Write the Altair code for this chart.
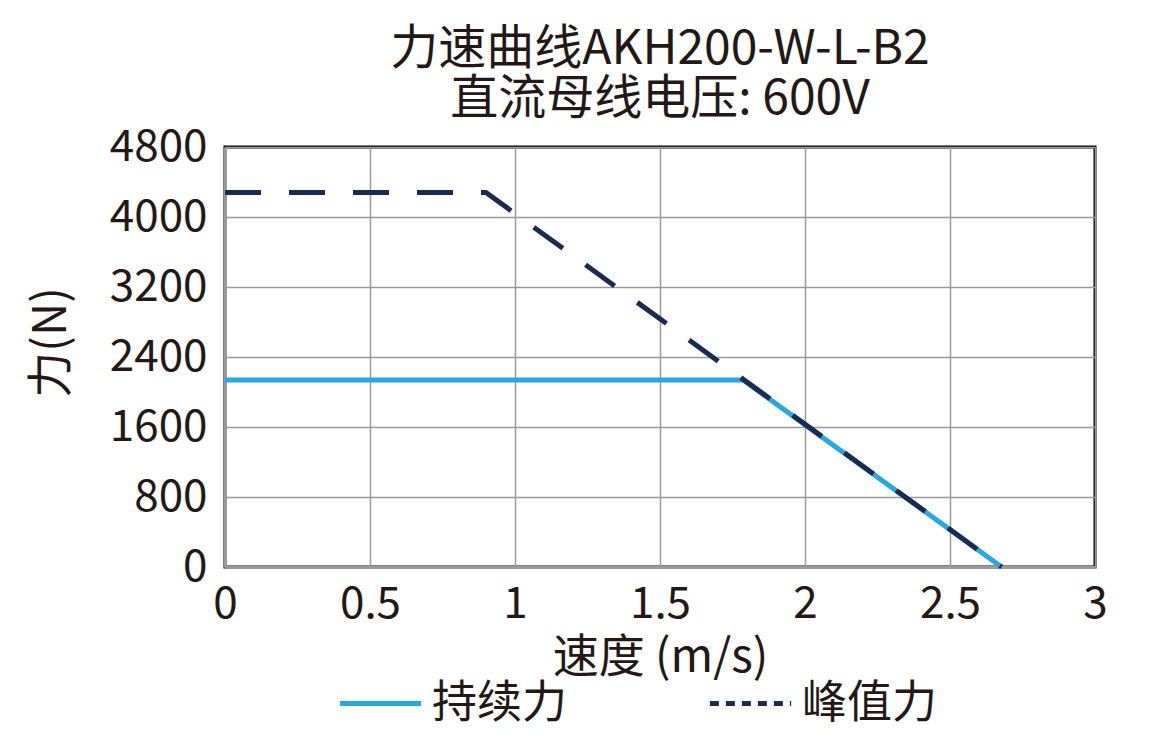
import altair as alt
import pandas as pd

# force-speed curve points
cont_speed = [0, 1.787, 2.678]
cont_force = [2137, 2137, 0]
peak_speed = [0, 0.9, 2.678]
peak_force = [4280, 4280, 0]

series_names = ["持续力", "峰值力"]
x_ticks = [0, 0.5, 1, 1.5, 2, 2.5, 3]
y_ticks = [0, 800, 1600, 2400, 3200, 4000, 4800]

FONT = "Noto Sans CJK SC"
INK = "#231815"

cont_df = pd.DataFrame({"speed": cont_speed, "force": cont_force, "series": series_names[0]})
peak_df = pd.DataFrame({"speed": peak_speed, "force": peak_force, "series": series_names[1]})

x_enc = alt.X("speed:Q", scale=alt.Scale(domain=[0, 3], nice=False),
              axis=alt.Axis(title="速度 (m/s)", values=x_ticks, format="~g"))
y_enc = alt.Y("force:Q", scale=alt.Scale(domain=[0, 4800], nice=False),
              axis=alt.Axis(title="力(N)", values=y_ticks, format="d", titleY=195))


def legend_at(x, dash=None):
    # one horizontal legend entry per series, placed under the x title
    opts = dict(orient="none", legendX=x, legendY=513, title=None,
                symbolType="stroke", symbolSize=6600, symbolStrokeWidth=5,
                labelFontSize=45, labelFont=FONT, labelColor=INK,
                labelOffset=8, labelLimit=400)
    if dash:
        opts["symbolDash"] = dash
    return alt.Legend(**opts)


cont_line = alt.Chart(cont_df).mark_line(strokeWidth=5).encode(
    x=x_enc, y=y_enc,
    color=alt.Color("series:N", scale=alt.Scale(domain=[series_names[0]], range=["#29a8e0"]),
                    legend=legend_at(112)),
)

peak_line = alt.Chart(peak_df).mark_line(strokeWidth=5, strokeDash=[36, 28]).encode(
    x=x_enc, y=y_enc,
    stroke=alt.Stroke("series:N", scale=alt.Scale(domain=[series_names[1]], range=["#1b2a52"]),
                      legend=legend_at(482, dash=[9, 7])),
)

chart = alt.layer(cont_line, peak_line).properties(
    width=870,
    height=420,
    autosize=alt.AutoSizeParams(type="none"),
    padding={"left": 217, "top": 139, "right": 55, "bottom": 162},
    title=alt.Title(["力速曲线AKH200-W-L-B2", "直流母线电压: 600V"],
                    fontSize=48, font=FONT, color=INK, fontWeight="normal",
                    lineHeight=50, offset=1, anchor="middle"),
).configure_view(
    stroke="#000000", strokeWidth=3
).configure_axis(
    labelFont=FONT, labelFontSize=44, labelColor=INK, labelFlush=False,
    titleFont=FONT, titleFontSize=46, titleColor=INK, titleFontWeight="normal",
    gridColor="#9a9a9a", gridWidth=1.5, gridOpacity=1,
    domainColor="#9a9a9a", domainWidth=3,
    ticks=False,
).configure_axisX(
    labelPadding=15, titlePadding=9,
).configure_axisY(
    labelPadding=18, titlePadding=34,
)

chart.save("out.html", embed_options={"renderer": "svg", "actions": False})
